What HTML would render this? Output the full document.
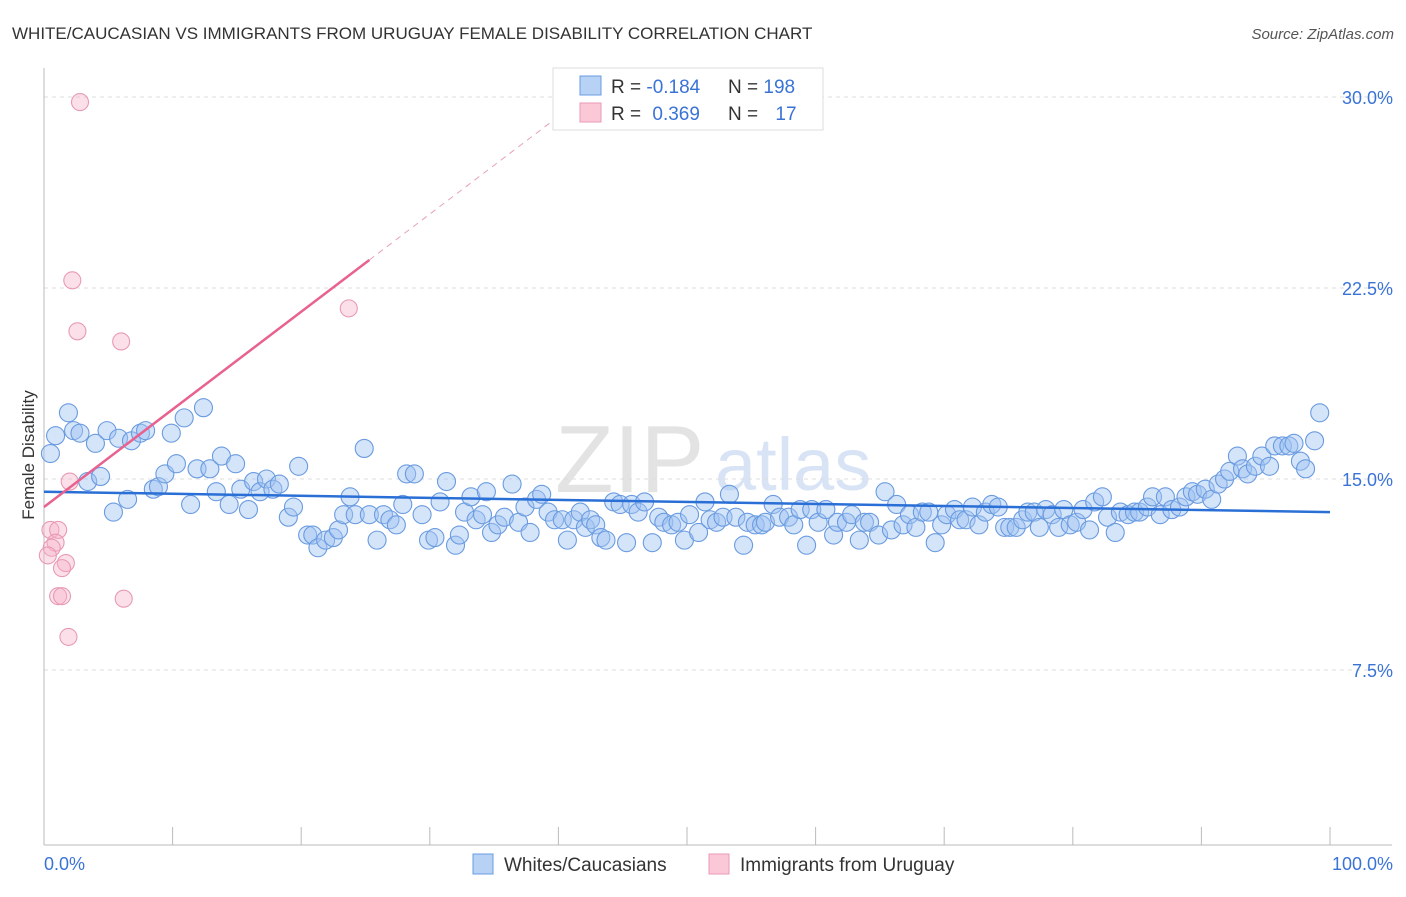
<!DOCTYPE html>
<html><head><meta charset="utf-8"><style>
body{margin:0;background:#fff;font-family:"Liberation Sans",sans-serif}
svg text{font-family:"Liberation Sans",sans-serif}
</style></head><body>
<svg id="chart" width="1406" height="892" viewBox="0 0 1406 892" xmlns="http://www.w3.org/2000/svg">
<text x="12" y="39" font-size="17" fill="#333">WHITE/CAUCASIAN VS IMMIGRANTS FROM URUGUAY FEMALE DISABILITY CORRELATION CHART</text>
<text x="1394" y="39" font-size="15" fill="#555" font-style="italic" text-anchor="end">Source: ZipAtlas.com</text>
<g>
<text x="555" y="492" font-size="96" fill="#ddd" font-family="Liberation Serif,serif" opacity="0.8">ZIP</text>
<text x="715" y="490" font-size="74" fill="#c8daf2" opacity="0.7">atlas</text>
</g>
<g id="grid"></g>
<g id="axes"></g>
<g id="pts"></g>
<g id="trends"></g>
<text transform="translate(34,455) rotate(-90)" font-size="17" fill="#333" text-anchor="middle">Female Disability</text>
<g>
<rect x="553" y="68" width="270" height="62" fill="#fff" stroke="#ddd"/>
<rect x="580" y="76" width="21" height="19" fill="#b8d2f6" stroke="#6a9be0"/>
<rect x="580" y="103" width="21" height="19" fill="#fbc8d8" stroke="#e89ab5"/>
<text x="611" y="93" font-size="19" fill="#333">R = <tspan fill="#3a73d6">-0.184</tspan></text>
<text x="728" y="93" font-size="19" fill="#333">N = <tspan fill="#3a73d6">198</tspan></text>
<text x="611" y="120" font-size="19" fill="#333">R = <tspan fill="#3a73d6" dx="6">0.369</tspan></text>
<text x="728" y="120" font-size="19" fill="#333">N = <tspan fill="#3a73d6" dx="12">17</tspan></text>
</g>
<g>
<rect x="473" y="854" width="20" height="20" fill="#b8d2f6" stroke="#6a9be0"/>
<text x="504" y="871" font-size="19" fill="#333">Whites/Caucasians</text>
<rect x="709" y="854" width="20" height="20" fill="#fbc8d8" stroke="#e89ab5"/>
<text x="740" y="871" font-size="19" fill="#333">Immigrants from Uruguay</text>
</g>
</svg>
<script>
const yTicks=[7.5,15,22.5,30];
const yTickLabels=["7.5%","15.0%","22.5%","30.0%"];
const xTickCount=[0,10,20,30,40,50,60,70,80,90,100];
const xEndLabels=["0.0%","100.0%"];
const blueX=[0.5,0.9,1.9,2.3,2.8,3.4,4.0,4.4,4.9,5.4,5.8,6.5,6.8,7.5,7.9,8.5,8.9,9.4,9.9,10.3,10.9,11.4,11.9,12.4,12.9,13.4,13.8,14.4,14.9,15.3,15.9,16.3,16.8,17.3,17.8,18.3,19.0,19.4,19.8,20.5,20.9,21.3,21.9,22.5,22.9,23.3,23.8,24.2,24.9,25.3,25.9,26.4,26.9,27.4,27.9,28.2,28.8,29.4,29.9,30.4,30.8,31.3,32.0,32.3,32.7,33.2,33.6,34.1,34.4,34.8,35.3,35.8,36.4,36.9,37.4,37.8,38.3,38.7,39.2,39.7,40.3,40.7,41.2,41.7,42.1,42.5,42.9,43.3,43.7,44.3,44.8,45.3,45.7,46.2,46.7,47.3,47.8,48.2,48.8,49.3,49.8,50.2,50.9,51.4,51.8,52.3,52.8,53.3,53.8,54.4,54.7,55.3,55.8,56.1,56.7,57.2,57.9,58.3,58.8,59.3,59.7,60.2,60.8,61.4,61.7,62.4,62.8,63.4,63.8,64.2,64.9,65.4,65.9,66.3,66.8,67.3,67.8,68.3,68.8,69.3,69.8,70.2,70.8,71.2,71.7,72.2,72.7,73.2,73.7,74.2,74.7,75.1,75.6,76.1,76.5,77.0,77.4,77.9,78.4,78.9,79.3,79.8,80.3,80.8,81.3,81.7,82.3,82.7,83.3,83.7,84.3,84.8,85.2,85.8,86.2,86.8,87.2,87.7,88.3,88.8,89.3,89.7,90.3,90.8,91.3,91.8,92.2,92.8,93.2,93.6,94.2,94.7,95.3,95.7,96.3,96.8,97.2,97.7,98.1,98.8,99.2];
const blueY=[16.0,16.7,17.6,16.9,16.8,14.9,16.4,15.1,16.9,13.7,16.6,14.2,16.5,16.8,16.9,14.6,14.7,15.2,16.8,15.6,17.4,14.0,15.4,17.8,15.4,14.5,15.9,14.0,15.6,14.6,13.8,14.9,14.5,15.0,14.6,14.8,13.5,13.9,15.5,12.8,12.8,12.3,12.6,12.7,13.0,13.6,14.3,13.6,16.2,13.6,12.6,13.6,13.4,13.2,14.0,15.2,15.2,13.6,12.6,12.7,14.1,14.9,12.4,12.8,13.7,14.3,13.4,13.6,14.5,12.9,13.2,13.5,14.8,13.3,13.9,12.9,14.2,14.4,13.7,13.4,13.4,12.6,13.4,13.7,13.1,13.4,13.2,12.7,12.6,14.1,14.0,12.5,14.0,13.7,14.1,12.5,13.5,13.3,13.2,13.3,12.6,13.6,12.9,14.1,13.4,13.3,13.5,14.4,13.5,12.4,13.3,13.2,13.2,13.3,14.0,13.5,13.5,13.2,13.8,12.4,13.8,13.3,13.8,12.8,13.3,13.3,13.6,12.6,13.3,13.3,12.8,14.5,13.0,14.0,13.2,13.6,13.1,13.7,13.7,12.5,13.2,13.6,13.8,13.4,13.4,13.9,13.2,13.7,14.0,13.9,13.1,13.1,13.1,13.4,13.7,13.7,13.1,13.8,13.6,13.1,13.8,13.2,13.3,13.8,13.0,14.1,14.3,13.5,12.9,13.7,13.6,13.7,13.7,13.9,14.3,13.6,14.3,13.8,13.9,14.3,14.5,14.4,14.6,14.2,14.8,15.0,15.3,15.9,15.4,15.2,15.5,15.9,15.5,16.3,16.3,16.3,16.4,15.7,15.4,16.5,17.6];
const pinkX=[2.8,2.2,2.6,6.0,23.7,2.0,0.5,1.1,0.9,0.6,0.3,1.7,1.4,1.1,1.4,6.2,1.9];
const pinkY=[29.8,22.8,20.8,20.4,21.7,14.9,13.0,13.0,12.5,12.3,12.0,11.7,11.5,10.4,10.4,10.3,8.8];
const blueTrendX=[0,100];
const blueTrendY=[14.5,13.7];
const pinkTrendX=[0,25.3];
const pinkTrendY=[13.9,23.6];
const pinkDashEndX=[41.7];

const NS="http://www.w3.org/2000/svg";
const X0=44,X1=1330,Y0=861,YPX=191/7.5;
function sx(v){return X0+(X1-X0)*v/100;}
function sy(v){return Y0-v*YPX;}
function mk(tag,attrs,parent){const e=document.createElementNS(NS,tag);for(const k in attrs)e.setAttribute(k,attrs[k]);parent.appendChild(e);return e;}
const grid=document.getElementById('grid'),axes=document.getElementById('axes'),pts=document.getElementById('pts'),tr=document.getElementById('trends');
yTicks.forEach((t,i)=>{
  const l=mk('line',{x1:44,x2:1392,y1:sy(t),y2:sy(t),stroke:'#ddd','stroke-dasharray':'4,4'},grid);
  
  
  const tx=mk('text',{x:1393,y:sy(t)+7,'font-size':18,fill:'#3a73d6','text-anchor':'end'},axes);
  tx.textContent=yTickLabels[i];
  
  
});
const la=mk('line',{x1:44,x2:44,y1:68,y2:845,stroke:'#bbb'},axes);


const lb=mk('line',{x1:44,x2:1392,y1:845,y2:845,stroke:'#bbb'},axes);


xTickCount.forEach(t=>{
  const l=mk('line',{x1:sx(t),x2:sx(t),y1:827,y2:845,stroke:'#bbb'},axes);
  
  
});
const xl0=mk('text',{x:44,y:870,'font-size':18,fill:'#3a73d6'},axes);xl0.textContent=xEndLabels[0];


const xl1=mk('text',{x:1393,y:870,'font-size':18,fill:'#3a73d6','text-anchor':'end'},axes);xl1.textContent=xEndLabels[1];


blueX.forEach((x,i)=>{
  const c=mk('circle',{cx:sx(x),cy:sy(blueY[i]),r:9,fill:'rgba(160,196,242,0.45)',stroke:'#6a9be0','stroke-width':1.1},pts);
  
  
});
pinkX.forEach((x,i)=>{
  const c=mk('circle',{cx:sx(x),cy:sy(pinkY[i]),r:8.5,fill:'rgba(247,178,200,0.4)',stroke:'#e89ab5','stroke-width':1.1},pts);
  
  
});
const bt=mk('line',{x1:sx(blueTrendX[0]),y1:sy(blueTrendY[0]),x2:sx(blueTrendX[1]),y2:sy(blueTrendY[1]),stroke:'#2a6fd6','stroke-width':2.5},tr);


const pt=mk('line',{x1:sx(pinkTrendX[0]),y1:sy(pinkTrendY[0]),x2:sx(pinkTrendX[1]),y2:sy(pinkTrendY[1]),stroke:'#e8628f','stroke-width':2.5},tr);


const slope=(pinkTrendY[1]-pinkTrendY[0])/(pinkTrendX[1]-pinkTrendX[0]);
const ex=pinkDashEndX[0],ey=pinkTrendY[0]+slope*ex;
const pd=mk('line',{x1:sx(pinkTrendX[1]),y1:sy(pinkTrendY[1]),x2:sx(ex),y2:sy(ey),stroke:'#e8a0b8','stroke-width':1,'stroke-dasharray':'6,5'},tr);


</script>
</body></html>
